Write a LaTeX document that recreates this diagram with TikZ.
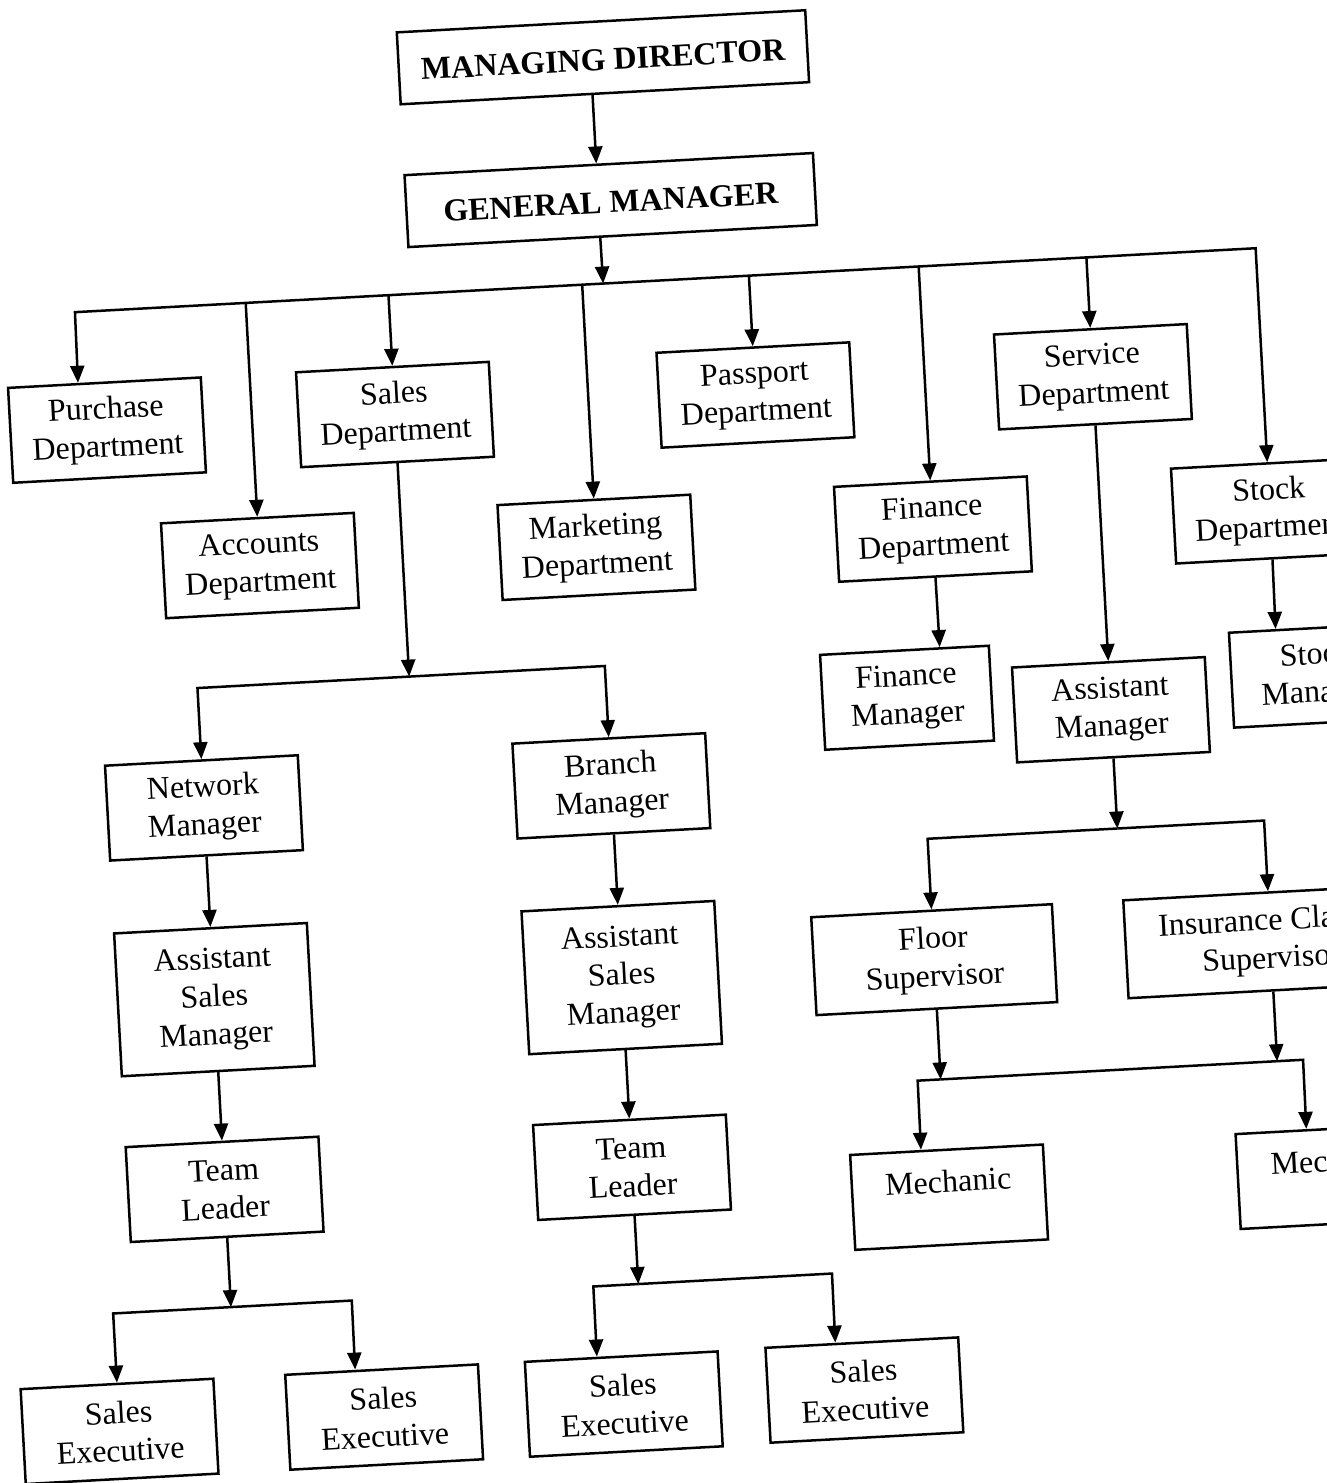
\documentclass[tikz,border=0pt]{standalone}
\usepackage{fontspec}
\setmainfont{Liberation Serif}
\usetikzlibrary{arrows.meta,calc}
\begin{document}
\begin{tikzpicture}[x=0.5pt,y=-0.5pt,
  box/.style={draw, line width=1.25pt, minimum width=96.5pt, minimum height=47.5pt, inner sep=1pt, align=center, font=\fontsize{16}{19}\selectfont, transform shape, execute at begin node={\rule{0pt}{12.8pt}}},
  topbox/.style={box, minimum width=204.5pt, minimum height=36pt, font=\fontsize{16}{19}\selectfont\bfseries, execute at begin node={}},
  lbl/.style={inner sep=0pt, font=\fontsize{16}{19}\selectfont, transform shape},
  conn/.style={line width=1.25pt, line join=miter},
  arr/.style={conn, -{Triangle[width=7pt,length=8.5pt]}}]
\clip (0,0) rectangle (1327,1483);
\fill[white] (0,0) rectangle (1327,1483);
\begin{scope}[rotate around={3.1:(663,741)}]
% top
\node[topbox] (md) at (640,55) {MANAGING DIRECTOR};
\node[topbox] (gm) at (640,198) {GENERAL MANAGER};
% departments
\node[box] (pur) at (124.6,400.5) {Purchase\\Department};
\node[box] (acc) at (270,544) {Accounts\\Department};
\node[box] (sal) at (413,400.5) {Sales\\Department};
\node[box] (mkt) at (607,544) {Marketing\\Department};
\node[box] (pas) at (774,400.5) {Passport\\Department};
\node[box] (fin) at (944,544) {Finance\\Department};
\node[box] (ser) at (1112,400.5) {Service\\Department};
\node[box] (stk) at (1281.5,544) {Stock\\Department};
% sales subtree
\node[box] (nm) at (201,783) {Network\\Manager};
\node[box] (bm) at (609,783) {Branch\\Manager};
\node[box, minimum height=71.5pt] (asm1) at (201,975) {Assistant\\Sales\\Manager};
\node[box, minimum height=71.5pt] (asm2) at (609,975) {Assistant\\Sales\\Manager};
\node[box] (tl1) at (201,1165) {Team\\Leader};
\node[box] (tl2) at (609,1165) {Team\\Leader};
\node[box] (se1) at (83,1401) {Sales\\Executive};
\node[box] (se2) at (348,1401) {Sales\\Executive};
\node[box] (se3) at (588,1401) {Sales\\Executive};
\node[box] (se4) at (829,1400) {Sales\\Executive};
% finance / service / stock
\node[box, minimum width=84.5pt] (fm) at (909,711) {Finance\\Manager};
\node[box, minimum width=86pt] (sm) at (1320,711) {Stock\\Manager};
\node[box] (am) at (1112,734) {Assistant\\Manager};
\node[box, minimum width=120.5pt, minimum height=49pt] (fs) at (922,974) {Floor\\Supervisor};
\node[box, minimum width=145pt, minimum height=49pt] (ics) at (1259,974) {Insurance Claims\\Supervisor};
\node[box, execute at begin node={}] (mech1) at (924,1212) {};
\node[box, execute at begin node={}] (mech2) at (1310,1212) {};
\node[lbl] (mech1t) at (924,1196) {Mechanic};
\node[lbl] (mech2t) at (1310,1196) {Mechanic};
% junction coordinates
\coordinate (j0) at (628,281);
\coordinate (jL) at (99,281);
\coordinate (jR) at (1281.5,281);
\coordinate (jAcc) at (270,281);
\coordinate (jSal) at (413,281);
\coordinate (jMkt) at (607,281);
\coordinate (jPas) at (774,281);
\coordinate (jFin) at (944,281);
\coordinate (jSer) at (1112,281);
\coordinate (jS0) at (413,663);
\coordinate (jSL) at (201,663);
\coordinate (jSR) at (609,663);
\coordinate (jT1) at (201,1283);
\coordinate (jT1L) at (83,1283);
\coordinate (jT1R) at (322,1283);
\coordinate (jT2) at (609,1282);
\coordinate (jT2L) at (564,1282);
\coordinate (jT2R) at (803,1282);
\coordinate (jA) at (1112,853);
\coordinate (jAL) at (922,853);
\coordinate (jAR) at (1259,853);
\coordinate (jB1) at (922,1094);
\coordinate (jB2) at (1259,1094);
\coordinate (jBL) at (899,1094);
\coordinate (jBR) at (1285,1094);
% connection points on box edges
\coordinate (mdB) at ($(md.south west)!0.47!(md.south east)$);
\coordinate (gmT) at ($(gm.north west)!0.47!(gm.north east)$);
\coordinate (gmB) at ($(gm.south west)!0.47!(gm.south east)$);
\coordinate (purT) at ($(pur.north west)!0.365!(pur.north east)$);
\coordinate (se2T) at ($(se2.north west)!0.365!(se2.north east)$);
\coordinate (se3T) at ($(se3.north west)!0.376!(se3.north east)$);
\coordinate (se4T) at ($(se4.north west)!0.365!(se4.north east)$);
\coordinate (fmT) at ($(fm.north west)!0.707!(fm.north east)$);
\coordinate (smT) at ($(sm.north west)!0.276!(sm.north east)$);
\coordinate (m1T) at ($(mech1.north west)!0.37!(mech1.north east)$);
\coordinate (m2T) at ($(mech2.north west)!0.37!(mech2.north east)$);
% connectors
\draw[arr] (mdB) -- (gmT);
\draw[arr] (gmB) -- (j0);
\draw[arr] (j0) -- (jL) -- (purT);
\draw[arr] (j0) -- (jR) -- (stk.north);
\draw[arr] (jAcc) -- (acc.north);
\draw[arr] (jSal) -- (sal.north);
\draw[arr] (jMkt) -- (mkt.north);
\draw[arr] (jPas) -- (pas.north);
\draw[arr] (jFin) -- (fin.north);
\draw[arr] (jSer) -- (ser.north);
\draw[arr] (sal.south) -- (jS0);
\draw[arr] (jS0) -- (jSL) -- (nm.north);
\draw[arr] (jS0) -- (jSR) -- (bm.north);
\draw[arr] (nm.south) -- (asm1.north);
\draw[arr] (bm.south) -- (asm2.north);
\draw[arr] (asm1.south) -- (tl1.north);
\draw[arr] (asm2.south) -- (tl2.north);
\draw[arr] (tl1.south) -- (jT1);
\draw[arr] (jT1) -- (jT1L) -- (se1.north);
\draw[arr] (jT1) -- (jT1R) -- (se2T);
\draw[arr] (tl2.south) -- (jT2);
\draw[arr] (jT2) -- (jT2L) -- (se3T);
\draw[arr] (jT2) -- (jT2R) -- (se4T);
\draw[arr] (fin.south) -- (fmT);
\draw[arr] (stk.south) -- (smT);
\draw[arr] (ser.south) -- (am.north);
\draw[arr] (am.south) -- (jA);
\draw[arr] (jA) -- (jAL) -- (fs.north);
\draw[arr] (jA) -- (jAR) -- (ics.north);
\draw[arr] (fs.south) -- (jB1);
\draw[arr] (ics.south) -- (jB2);
\draw[conn] (jB1) -- (jB2);
\draw[arr] (jB1) -- (jBL) -- (m1T);
\draw[arr] (jB2) -- (jBR) -- (m2T);
\end{scope}
\end{tikzpicture}
\end{document}
